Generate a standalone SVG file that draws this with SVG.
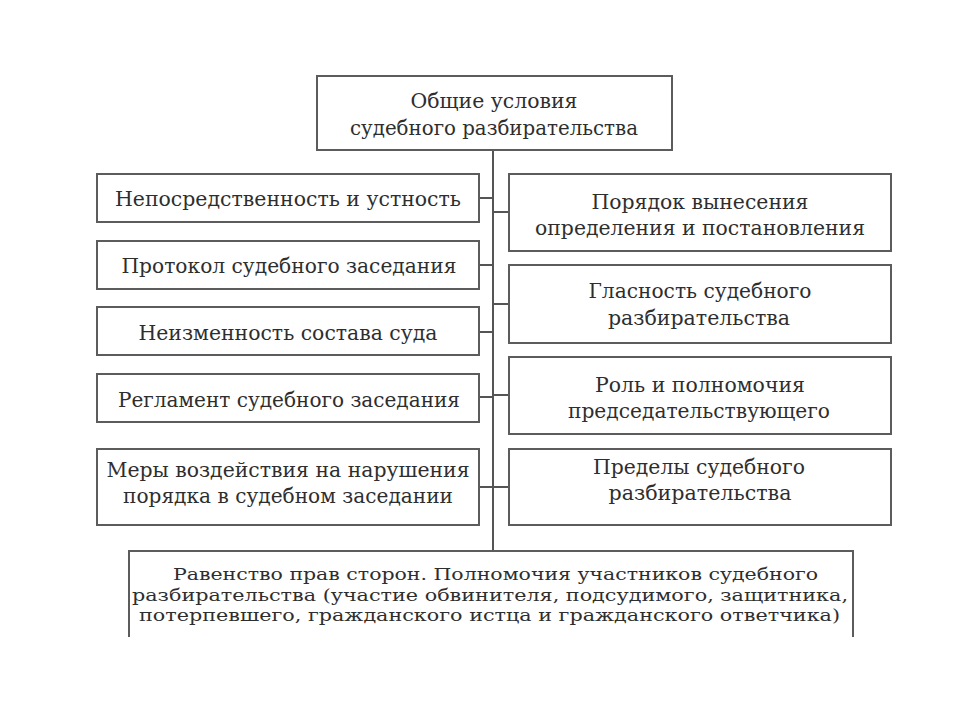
<svg xmlns="http://www.w3.org/2000/svg" width="960" height="720" viewBox="0 0 960 720">
<style>
.box{fill:#fff;stroke:#5c5c5c;stroke-width:2}
.t{font-family:"DejaVu Serif","Liberation Serif",serif;font-size:20px;fill:#2e2e2e;text-anchor:middle}
.b{font-size:17.5px}
.c{stroke:#555;stroke-width:2;fill:none}
</style>
<rect width="960" height="720" fill="#fff"/>
<g id="connectors">
<line class="c" x1="493" y1="150" x2="493" y2="551"/>
<line class="c" x1="479" y1="198" x2="493" y2="198"/>
<line class="c" x1="479" y1="265" x2="493" y2="265"/>
<line class="c" x1="479" y1="332" x2="493" y2="332"/>
<line class="c" x1="479" y1="397" x2="493" y2="397"/>
<line class="c" x1="479" y1="487" x2="493" y2="487"/>
<line class="c" x1="493" y1="212" x2="509" y2="212"/>
<line class="c" x1="493" y1="304" x2="509" y2="304"/>
<line class="c" x1="493" y1="395" x2="509" y2="395"/>
<line class="c" x1="493" y1="487" x2="509" y2="487"/>
</g>
<g id="root">
<rect class="box" x="317" y="76" width="355" height="74"/>
<text class="t" x="494" y="108" textLength="167" lengthAdjust="spacingAndGlyphs">Общие условия</text>
<text class="t" x="494" y="135" textLength="288" lengthAdjust="spacingAndGlyphs">судебного разбирательства</text>
</g>
<g id="l1">
<rect class="box" x="97" y="174" width="382" height="48"/>
<text class="t" x="288" y="206" textLength="346" lengthAdjust="spacingAndGlyphs">Непосредственность и устность</text>
</g>
<g id="l2">
<rect class="box" x="97" y="241" width="382" height="48"/>
<text class="t" x="289" y="273" textLength="335" lengthAdjust="spacingAndGlyphs">Протокол судебного заседания</text>
</g>
<g id="l3">
<rect class="box" x="97" y="307" width="382" height="48"/>
<text class="t" x="288" y="340" textLength="299" lengthAdjust="spacingAndGlyphs">Неизменность состава суда</text>
</g>
<g id="l4">
<rect class="box" x="97" y="374" width="382" height="48"/>
<text class="t" x="289" y="407" textLength="342" lengthAdjust="spacingAndGlyphs">Регламент судебного заседания</text>
</g>
<g id="l5">
<rect class="box" x="97" y="449" width="382" height="76"/>
<text class="t" x="288" y="477" textLength="363" lengthAdjust="spacingAndGlyphs">Меры воздействия на нарушения</text>
<text class="t" x="288" y="503" textLength="330" lengthAdjust="spacingAndGlyphs">порядка в судебном заседании</text>
</g>
<g id="r1">
<rect class="box" x="509" y="174" width="382" height="77"/>
<text class="t" x="700" y="209" textLength="217" lengthAdjust="spacingAndGlyphs">Порядок вынесения</text>
<text class="t" x="700" y="235" textLength="330" lengthAdjust="spacingAndGlyphs">определения и постановления</text>
</g>
<g id="r2">
<rect class="box" x="509" y="265" width="382" height="78"/>
<text class="t" x="700" y="298" textLength="223" lengthAdjust="spacingAndGlyphs">Гласность судебного</text>
<text class="t" x="699" y="325" textLength="182" lengthAdjust="spacingAndGlyphs">разбирательства</text>
</g>
<g id="r3">
<rect class="box" x="509" y="357" width="382" height="77"/>
<text class="t" x="700" y="392" textLength="210" lengthAdjust="spacingAndGlyphs">Роль и полномочия</text>
<text class="t" x="699" y="418" textLength="262" lengthAdjust="spacingAndGlyphs">председательствующего</text>
</g>
<g id="r4">
<rect class="box" x="509" y="449" width="382" height="76"/>
<text class="t" x="699" y="474" textLength="212" lengthAdjust="spacingAndGlyphs">Пределы судебного</text>
<text class="t" x="700" y="500" textLength="183" lengthAdjust="spacingAndGlyphs">разбирательства</text>
</g>
<g id="bottom">
<path class="box" d="M129 637 V551 H853 V637"/>
<text class="t b" x="495.5" y="580" textLength="645" lengthAdjust="spacingAndGlyphs">Равенство прав сторон. Полномочия участников судебного</text>
<text class="t b" x="490" y="600.5" textLength="716" lengthAdjust="spacingAndGlyphs">разбирательства (участие обвинителя, подсудимого, защитника,</text>
<text class="t b" x="489.5" y="621" textLength="701" lengthAdjust="spacingAndGlyphs">потерпевшего, гражданского истца и гражданского ответчика)</text>
</g>
</svg>
